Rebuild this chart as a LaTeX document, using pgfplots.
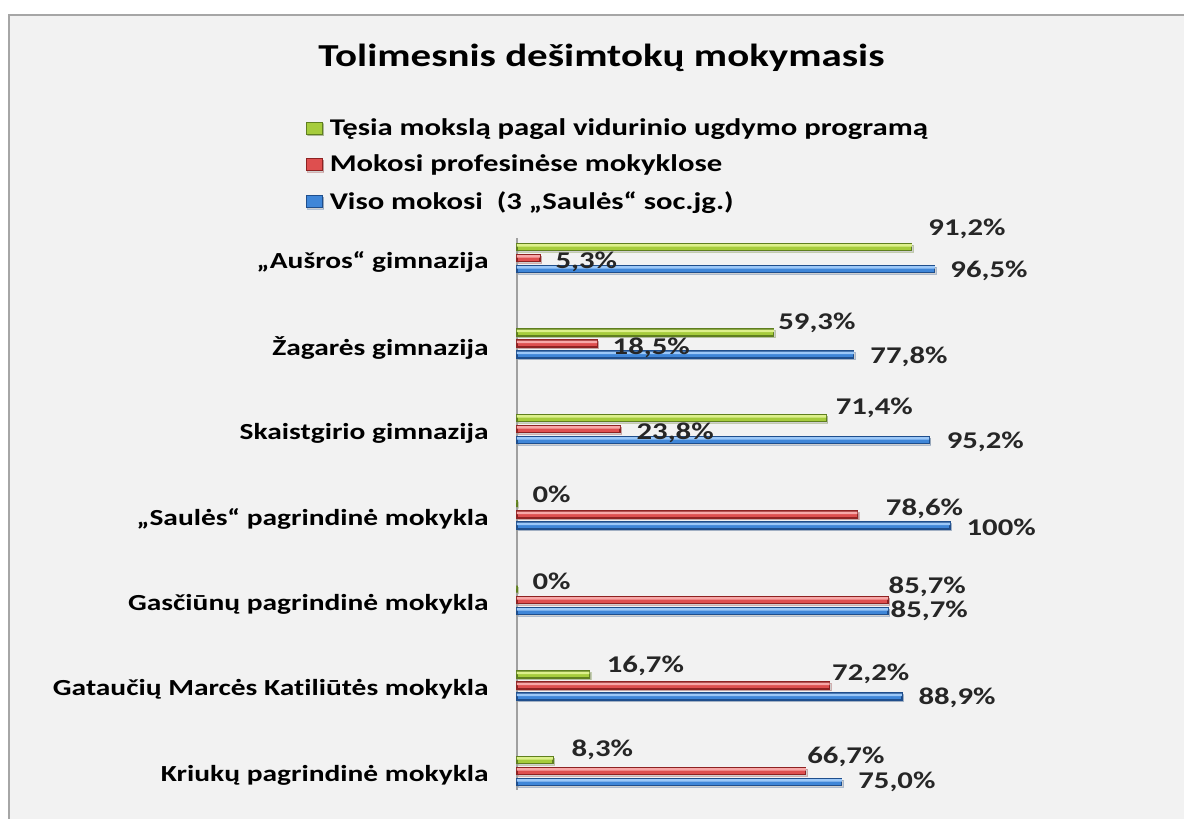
\documentclass[border=0pt]{standalone}
\usepackage{fontspec}
\setmainfont{Carlito}[FakeStretch=1.28, Ligatures=NoCommon]
\usepackage{pgfplots}
\pgfplotsset{compat=1.18}
\usetikzlibrary{shadows}

\definecolor{bgGray}{HTML}{F2F2F2}
\definecolor{frameGray}{HTML}{A6A6A6}
\definecolor{axisGray}{HTML}{A0A0A0}
\definecolor{gLight}{HTML}{DDF08C}
\definecolor{gMid}{HTML}{A6CC3C}
\definecolor{gDark}{HTML}{5F7F1F}
\definecolor{rLight}{HTML}{F7A8A8}
\definecolor{rMid}{HTML}{DE4F4F}
\definecolor{rDark}{HTML}{8E2222}
\definecolor{bLight}{HTML}{9CC8F8}
\definecolor{bMid}{HTML}{3F86D8}
\definecolor{bDark}{HTML}{1F4E8C}

% y: 6 = Ausros (top) ... 0 = Kriuku (bottom); dx, dy = label offsets in pt
\pgfplotstableread{
y x dx dy lab
6 91.2 8 9 91,2\%
5 59.3 2 5 59,3\%
4 71.4 4.5 5 71,4\%
3 0 7.5 4.5 0\%
2 0 7.5 4 0\%
1 16.7 8.5 4.5 16,7\%
0 8.3 9 5 8,3\%
}\tesia
\pgfplotstableread{
y x dx dy lab
6 5.3 7.5 -2 5,3\%
5 18.5 7.5 -2 18,5\%
4 23.8 8 -2 23,8\%
3 78.6 14 3 78,6\%
2 85.7 0 6.5 85,7\%
1 72.2 1 6 72,2\%
0 66.7 0.5 7 66,7\%
}\profesines
\pgfplotstableread{
y x dx dy lab
6 96.5 7.5 -1 96,5\%
5 77.8 8 -1 77,8\%
4 95.2 8.5 -1 95,2\%
3 100 8 -1 100\%
2 85.7 1 0 85,7\%
1 88.9 8 -0.5 88,9\%
0 75.0 8 0 75,0\%
}\viso

\begin{document}
\begin{tikzpicture}
\useasboundingbox (0,0) rectangle (592pt,409.5pt);
\fill[white] (0,0) rectangle (592pt,409.5pt);
\draw[fill=bgGray, draw=frameGray, line width=1.2pt] (4.5pt,-5pt) rectangle (600pt,402pt);
\node[font=\bfseries\fontsize{16}{19}\selectfont, anchor=base] at (300.75pt,376pt) {Tolimesnis dešimtokų mokymasis};

\begin{axis}[
  at={(258.5pt,14.5pt)}, anchor=south west,
  scale only axis, width=216.5pt, height=276pt,
  xmin=0, xmax=100, ymin=-0.222, ymax=6.234,
  xbar, bar width=3.5pt,
  axis x line=none, axis y line*=left,
  y axis line style={draw=axisGray, line width=0.8pt, -},
  ytick={0,...,6},
  yticklabels={Kriukų pagrindinė mokykla, Gataučių Marcės Katiliūtės mokykla, Gasčiūnų pagrindinė mokykla, „Saulės“ pagrindinė mokykla, Skaistgirio gimnazija, Žagarės gimnazija, „Aušros“ gimnazija},
  major tick length=0pt,
  yticklabel style={font=\bfseries\fontsize{11.5}{14}\selectfont, anchor=east, inner sep=0pt, xshift=-14pt, yshift=-2pt},
  clip=false,
  point meta=explicit symbolic,
  visualization depends on={\thisrow{dx} \as \dx},
  visualization depends on={\thisrow{dy} \as \dy},
  every node near coord/.append style={font=\bfseries\fontsize{12}{14}\selectfont, anchor=west, inner sep=0pt, xshift=\dx pt, yshift=\dy pt, text=black!85},
  legend style={at={(axis description cs:-0.503,1.232)}, anchor=north west, draw=none, fill=none,
    font=\bfseries\fontsize{12}{14}\selectfont, row sep=4.3pt, column sep=1.5pt},
  legend cell align=left,
  legend image code/.code={\draw[#1] (0pt,-3pt) rectangle (8pt,3pt);},
  main/.style={drop shadow={shadow xshift=0.8pt, shadow yshift=-0.8pt, opacity=0.3}, line width=0.6pt, nodes near coords},
  shine/.style={bar width=1.2pt, draw=none, forget plot},
]
\addplot[main, bar shift=5.5pt, draw=gDark, fill=gMid] table[x=x, y=y, meta=lab] {\tesia};
\addlegendentry{Tęsia mokslą pagal vidurinio ugdymo programą}
\addplot[main, bar shift=0pt, draw=rDark, fill=rMid] table[x=x, y=y, meta=lab] {\profesines};
\addlegendentry{Mokosi profesinėse mokyklose}
\addplot[main, bar shift=-5.5pt, draw=bDark, fill=bMid] table[x=x, y=y, meta=lab] {\viso};
\addlegendentry{Viso mokosi\ \ (3 „Saulės“ soc.jg.)}
% light highlight along the top edge of each bar
\addplot[shine, bar shift=6.3pt, fill=gLight] table[x=x, y=y] {\tesia};
\addplot[shine, bar shift=0.8pt, fill=rLight] table[x=x, y=y] {\profesines};
\addplot[shine, bar shift=-4.7pt, fill=bLight] table[x=x, y=y] {\viso};
\end{axis}
\end{tikzpicture}
\end{document}
